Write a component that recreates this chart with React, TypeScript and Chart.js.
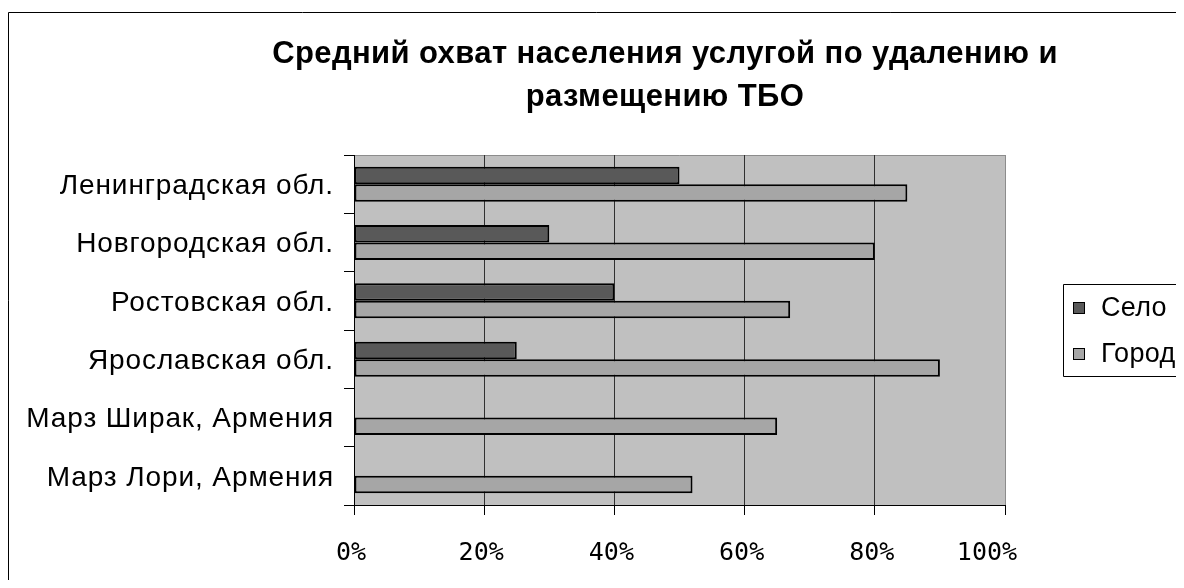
import React, { useEffect, useRef } from "react";
import { Chart, registerables } from "chart.js";

Chart.register(...registerables);

const regions = [
  "Ленинградская обл.",
  "Новгородская обл.",
  "Ростовская обл.",
  "Ярославская обл.",
  "Марз Ширак, Армения",
  "Марз Лори, Армения",
];

const ruralShare = [50, 30, 40, 25, null, null];
const urbanShare = [85, 80, 67, 90, 65, 52];

const percentTicks = [0, 20, 40, 60, 80, 100];

const titleLines = [
  "Средний охват населения услугой по удалению и",
  "размещению ТБО",
];

const seriesNames = ["Село", "Город"];
const seriesColors = ["#595959", "#a6a6a6"];

const W = 1176;
const H = 580;

const SANS = "'Liberation Sans', Arial, sans-serif";

const frame = {
  id: "frame",
  beforeDraw(chart: any) {
    const { ctx, chartArea } = chart;
    ctx.save();
    ctx.fillStyle = "#ffffff";
    ctx.fillRect(0, 0, chart.width, chart.height);
    ctx.fillStyle = "#c0c0c0";
    ctx.fillRect(
      chartArea.left,
      chartArea.top,
      chartArea.right - chartArea.left,
      chartArea.bottom - chartArea.top
    );
    // outer chart border (left and top edges lie inside the canvas)
    ctx.strokeStyle = "#000000";
    ctx.lineWidth = 1;
    ctx.beginPath();
    ctx.moveTo(0.5, H);
    ctx.lineTo(0.5, 4.5);
    ctx.lineTo(W, 4.5);
    ctx.stroke();
    // plot area top edge
    ctx.strokeStyle = "#8c8c8c";
    ctx.beginPath();
    ctx.moveTo(chartArea.left, chartArea.top + 0.5);
    ctx.lineTo(chartArea.right, chartArea.top + 0.5);
    ctx.stroke();
    ctx.restore();
  },
  afterDraw(chart: any) {
    const { ctx } = chart;
    ctx.save();
    // title
    ctx.fillStyle = "#000000";
    ctx.font = `bold 31px ${SANS}`;
    (ctx as any).letterSpacing = "0.4px";
    ctx.textAlign = "center";
    ctx.textBaseline = "middle";
    ctx.fillText(titleLines[0], 657, 46);
    ctx.fillText(titleLines[1], 657, 89);

    // legend
    const boxLeft = 1055.5;
    const boxTop = 276.5;
    const boxBottom = 368.5;
    ctx.strokeStyle = "#000000";
    ctx.lineWidth = 1;
    ctx.beginPath();
    ctx.moveTo(W, boxTop);
    ctx.lineTo(boxLeft, boxTop);
    ctx.lineTo(boxLeft, boxBottom);
    ctx.lineTo(W, boxBottom);
    ctx.stroke();
    ctx.font = `27px ${SANS}`;
    (ctx as any).letterSpacing = "0.3px";
    ctx.textAlign = "left";
    const rows = [300, 346];
    chart.data.datasets.forEach((ds: any, i: number) => {
      const cy = rows[i];
      ctx.fillStyle = ds.backgroundColor;
      ctx.fillRect(1065, cy - 6, 12, 12);
      ctx.strokeStyle = "#000000";
      ctx.strokeRect(1065.5, cy - 5.5, 11, 11);
      ctx.fillStyle = "#000000";
      ctx.fillText(ds.label, 1093, cy + 1);
    });
    ctx.restore();
  },
};

// category labels are drawn slightly letter-spaced
function spaceLabels(scale: any, spacing: string) {
  if (scale.__spaced) return;
  const original = scale.drawLabels.bind(scale);
  scale.drawLabels = (area: any) => {
    const c = scale.ctx;
    c.save();
    c.letterSpacing = spacing;
    original(area);
    c.restore();
  };
  scale.__spaced = true;
}

export default function App() {
  const ref = useRef<HTMLCanvasElement | null>(null);

  useEffect(() => {
    if (!ref.current) return;
    const chart = new Chart(ref.current, {
      type: "bar",
      data: {
        labels: regions,
        datasets: [
          {
            label: seriesNames[0],
            data: ruralShare,
            backgroundColor: seriesColors[0],
            borderColor: "#000000",
            borderWidth: 2,
            borderSkipped: false,
            categoryPercentage: 0.6,
            barPercentage: 1,
          },
          {
            label: seriesNames[1],
            data: urbanShare,
            backgroundColor: seriesColors[1],
            borderColor: "#000000",
            borderWidth: 2,
            borderSkipped: false,
            categoryPercentage: 0.6,
            barPercentage: 1,
          },
        ],
      },
      options: {
        indexAxis: "y",
        responsive: false,
        animation: false,
        devicePixelRatio: 1,
        layout: { padding: { left: 0, right: W - 997, top: 147, bottom: 0 } },
        plugins: {
          legend: { display: false },
          title: { display: false },
          tooltip: { enabled: false },
        },
        scales: {
          y: {
            type: "category",
            grid: {
              offset: true,
              drawOnChartArea: false,
              tickLength: 10,
              color: "#000000",
            },
            border: { display: true, color: "#000000", width: 1 },
            ticks: {
              color: "#000000",
              padding: 10,
              labelOffset: 2,
              font: { family: SANS, size: 28 },
            },
            afterFit: (s: any) => {
              s.width = 346;
              spaceLabels(s, "0.9px");
            },
          },
          x: {
            type: "linear",
            min: 0,
            max: 100,
            afterBuildTicks: (s: any) => {
              s.ticks = percentTicks.map((v) => ({ value: v }));
            },
            grid: {
              tickLength: 10,
              color: (c: any) =>
                c.tick && c.tick.value === 100 ? "#8c8c8c" : "#303030",
              tickColor: "#000000",
            },
            border: { display: true, color: "#000000", width: 1 },
            ticks: {
              color: "#000000",
              padding: 23,
              labelOffset: -3,
              maxRotation: 0,
              font: { family: "'DejaVu Sans Mono', monospace", size: 25 },
              callback: (v: any) => (v === 100 ? v + "%  " : v + "%"),
            },
            afterFit: (s: any) => {
              s.height = H - 497;
            },
          },
        },
      },
      plugins: [frame],
    } as any);
    return () => chart.destroy();
  }, []);

  return (
    <div style={{ width: W, height: H, marginBottom: -8, overflow: "hidden" }}>
      <canvas ref={ref} width={W} height={H} style={{ display: "block", width: W, height: H }} />
    </div>
  );
}
